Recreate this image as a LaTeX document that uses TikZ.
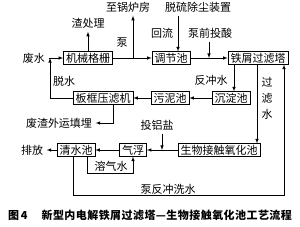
\documentclass[tikz,border=0pt]{standalone}
\usepackage{fontspec}
\setmainfont{Noto Sans CJK SC}
\tikzset{
  box/.style={draw, inner xsep=2.5pt, inner ysep=1.2pt},
  flow/.style={->, >=latex},
}
\begin{document}
\begin{tikzpicture}[x=1pt, y=-1pt, line width=0.6pt, font=\fontsize{11}{12}\selectfont]
	\useasboundingbox (0,0) rectangle (300,226);
	% process units
	\node [box] (grid)  at (88,58)  {机械格栅};
	\node [box] (tank)  at (171,58) {调节池};
	\node [box] (tower) at (258,58) {铁屑过滤塔};
	\node [box] (press) at (103,98) {板框压滤机};
	\node [box] (sludge) at (170,98) {污泥池};
	\node [box] (settle) at (231,98) {沉淀池};
	\node [box] (clear) at (76,150) {清水池};
	\node [box] (float) at (133,150) {气浮};
	\node [box] (bio)   at (219,150) {生物接触氧化池};
	% texts
	\node (waste)  at (34,58)  {废水};
	\node (slag)   at (88,23)  {渣处理};
	\node (boiler) at (128,7)  {至锅炉房};
	\node (desulf) at (198,7)  {脱硫除尘装置};
	\node (back)   at (162,33) {回流};
	\node (acid)   at (210,33) {泵前投酸};
	\node (pump)   at (122,43) {泵};
	\node (dewater) at (64,81) {脱水};
	\node (rinse)  at (211,80) {反冲水};
	\node (filt) [align=center, inner sep=0pt] at (267,98) {过\\[4pt]滤\\[4pt]水};
	\node (dump)   at (59,123) {废渣外运填埋};
	\node (alum)   at (157,125) {投铝盐};
	\node (out)    at (32,150) {排放};
	\node (air)    at (111,166) {溶气水};
	\node (wash)   at (168,189) {泵反冲洗水};
	\node (cap) at (150,215) {\bfseries\addfontfeatures{LetterSpace=4}图\,4\quad\ 新型内电解铁屑过滤塔—生物接触氧化池工艺流程};
	% junctions
	\coordinate (j1) at (50,58);
	\coordinate (j2) at (133,58);
	\coordinate (j3) at (209,58);
	\coordinate (j4) at (162,150);
	\coordinate (dl) at (87,173);
	\coordinate (dr) at (133,173);
	\coordinate (wl) at (73,195);
	\coordinate (wr) at (284,195);
	% connectors
	\draw [flow] (waste) -- (grid);
	\draw [flow] (press.west) -| (j1);
	\draw [flow] (grid) -- (slag);
	\draw [flow] (grid) -- (tank);
	\draw [flow] (j2) -- (j2 |- boiler.south);
	\draw [flow] ([xshift=7pt]tank.north |- desulf.south) -- ([xshift=7pt]tank.north);
	\draw [flow] (tank) -- (tower);
	\draw [flow] (j3 |- acid.south) -- (j3);
	\draw [flow] (tower.south -| 234,0) -- (settle.north -| 234,0);
	\draw [flow] (tower.south -| 257,0) -- (bio.north -| 257,0);
	\draw [flow] (settle) -- (sludge);
	\draw [flow] (sludge) -- (press);
	\draw [flow] (press.south -| 113,0) |- (dump);
	\draw [flow] (bio) -- (float);
	\draw [flow] (j4 |- alum.south) -- (j4);
	\draw [flow] (float) -- (clear);
	\draw [flow] (clear) -- (out);
	\draw [flow] (clear.south -| dl) -- (dl) -- (dr) -- (float.south);
	\draw [flow] (clear.south -| wl) -- (wl) -- (wr) -- (tower.south -| wr);
\end{tikzpicture}
\end{document}
